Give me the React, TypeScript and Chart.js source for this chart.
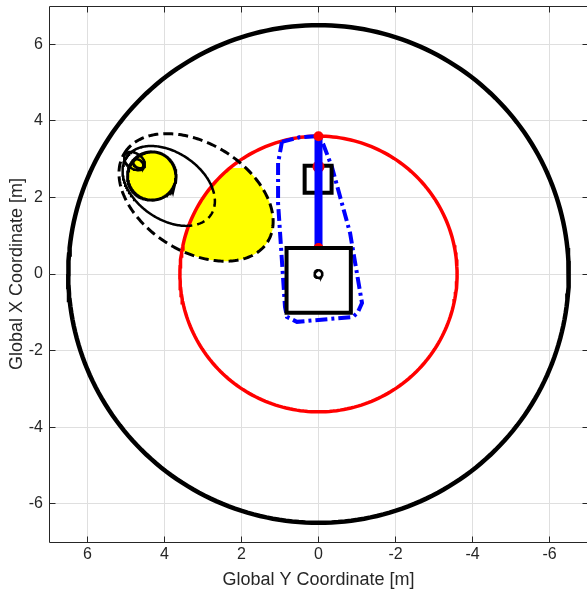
import React, { useEffect, useRef } from "react";
import { Chart, registerables } from "chart.js";

Chart.register(...registerables);

// Axis limits and tick marks (same on both axes)
const AXIS_MIN = -7;
const AXIS_MAX = 7;
const TICK_VALUES = [-6, -4, -2, 0, 2, 4, 6];

// Circles centred on the machine origin, radius in metres
const WORKSPACE_RADIUS = 6.5;
const BOOM_REACH_RADIUS = 3.6;
const ORIGIN_MARK_RADIUS = 0.1;

// Swing ellipses: [centre Y, centre X, semi-major, semi-minor, tilt deg]
const SWING_ENVELOPE = [3.18, 2.0, 2.19, 1.41, 32];
const SWING_PATH = [3.89, 2.3, 1.33, 0.87, 34.9];
const SWING_CURL_OUTER = [4.78, 2.95, 0.3, 0.2, 35];
const SWING_CURL_INNER = [4.68, 2.88, 0.15, 0.1, 35];

// Upper limit (Global X) of the shaded reachable part of the envelope
const SHADE_TOP_X = 2.77;

// Load footprint: [centre Y, centre X, radius]
const LOAD_DISC = [4.33, 2.56, 0.63];

// Boom from base joint to tip
const BOOM_Y = [0, 0];
const BOOM_X = [0.68, 3.6];
const BOOM_TIP_Y = [0];
const BOOM_TIP_X = [3.6];
const BOOM_BASE_Y = [0];
const BOOM_BASE_X = [0.68];
const HOIST_JOINT_Y = [0];
const HOIST_JOINT_X = [2.8];

// Cab and base outlines (closed)
const CAB_Y = [0.36, -0.34, -0.34, 0.36, 0.36];
const CAB_X = [2.83, 2.83, 2.12, 2.12, 2.83];
const BASE_Y = [0.83, -0.84, -0.84, 0.83, 0.83];
const BASE_X = [0.68, 0.68, -1.01, -1.01, 0.68];

// Swept hull of the machine
const HULL_Y = [0.95, 0.5, 0, -0.12, -0.35, -0.82, -1.13, -1.02, -0.9, 0.56, 0.82, 0.87, 1.05, 1.05, 0.95];
const HULL_X = [3.45, 3.57, 3.6, 3.4, 2.79, 1.07, -0.76, -1.0, -1.12, -1.25, -1.12, -0.86, 1.85, 2.9, 3.45];

const TEXT_COLOR = "#262626";
const GRID_COLOR = "#dfdfdf";
const FONT_FAMILY = "'Liberation Sans', Arial, Helvetica, sans-serif";

type P = { x: number; y: number };

// x holds the Global Y coordinate, y holds the Global X coordinate
const zip = (ys: number[], xs: number[]): P[] => ys.map((v, i) => ({ x: v, y: xs[i] }));

function ellipsePts([cy, cx, a, b, deg]: number[], n = 240): P[] {
  const t = (deg * Math.PI) / 180;
  const pts: P[] = [];
  for (let i = 0; i <= n; i++) {
    const p = (2 * Math.PI * i) / n;
    const u = a * Math.cos(p);
    const v = b * Math.sin(p);
    pts.push({ x: cy + u * Math.cos(t) - v * Math.sin(t), y: cx + u * Math.sin(t) + v * Math.cos(t) });
  }
  return pts;
}

const circlePts = (cy: number, cx: number, r: number, n = 240) => ellipsePts([cy, cx, r, r, 0], n);

const insideReach = (p: P) => Math.hypot(p.x, p.y) < BOOM_REACH_RADIUS;

// Part of the swing envelope that lies inside the boom reach
function envelopeWithinReach(): P[] {
  return ellipsePts(SWING_ENVELOPE).map((p) => {
    const d = Math.hypot(p.x, p.y);
    const q = d > BOOM_REACH_RADIUS ? { x: (p.x * BOOM_REACH_RADIUS) / d, y: (p.y * BOOM_REACH_RADIUS) / d } : p;
    return { x: q.x, y: Math.min(q.y, SHADE_TOP_X) };
  });
}

const GAP: P = { x: NaN, y: NaN };

function splitPath(): { outside: P[]; inside: P[] } {
  const pts = ellipsePts(SWING_PATH);
  const flags = pts.map(insideReach);
  const inside = pts.map((p, i) =>
    flags[i] || flags[Math.max(0, i - 1)] || flags[Math.min(pts.length - 1, i + 1)] ? p : GAP
  );
  const outside = pts.map((p, i) => (flags[i] ? GAP : p));
  return { outside, inside };
}

function stroke(data: P[], color: string, width: number, dash: number[] = [], fillColor?: string, cap = "butt") {
  return {
    data,
    showLine: true,
    borderColor: color,
    borderWidth: width,
    borderDash: dash,
    borderCapStyle: cap,
    borderJoinStyle: "miter",
    pointRadius: 0,
    pointHoverRadius: 0,
    spanGaps: false,
    tension: 0,
    fill: fillColor ? "shape" : false,
    backgroundColor: fillColor ?? "rgba(0,0,0,0)",
  };
}

function dots(data: P[], color: string, r: number) {
  return {
    data,
    showLine: false,
    pointRadius: r,
    pointHoverRadius: r,
    pointBackgroundColor: color,
    pointBorderColor: color,
    pointBorderWidth: 0,
    fill: false,
  };
}

const framePlugin = {
  id: "frame",
  afterDatasetsDraw(chart: any) {
    const { ctx, chartArea } = chart;
    const { left, right, top, bottom } = chartArea;
    const align = (v: number) => Math.round(v - 0.5) + 0.5;
    const L = align(left);
    const R = align(right);
    const T = align(top);
    const B = align(bottom);
    const len = 6;
    ctx.save();
    ctx.strokeStyle = TEXT_COLOR;
    ctx.lineWidth = 1;
    ctx.beginPath();
    ctx.rect(L, T, R - L, B - T);
    for (const v of TICK_VALUES) {
      const px = align(chart.scales.x.getPixelForValue(v));
      ctx.moveTo(px, B);
      ctx.lineTo(px, B - len);
      ctx.moveTo(px, T);
      ctx.lineTo(px, T + len);
      const py = align(chart.scales.y.getPixelForValue(v));
      ctx.moveTo(L, py);
      ctx.lineTo(L + len, py);
      ctx.moveTo(R, py);
      ctx.lineTo(R - len, py);
    }
    ctx.stroke();
    ctx.restore();
  },
};

export default function App() {
  const ref = useRef<HTMLCanvasElement>(null);

  useEffect(() => {
    const canvas = ref.current;
    if (!canvas) return;
    const path = splitPath();

    // Listed bottom layer first
    const layers: any[] = [
      stroke(circlePts(0, 0, WORKSPACE_RADIUS), "#000000", 4.5),
      stroke(envelopeWithinReach(), "rgba(0,0,0,0)", 1, [], "#ffff00"),
      stroke(circlePts(LOAD_DISC[0], LOAD_DISC[1], LOAD_DISC[2]), "#000000", 3, [], "#ffff00"),
      stroke(circlePts(0, 0, BOOM_REACH_RADIUS), "#ff0000", 3.5),
      stroke(ellipsePts(SWING_ENVELOPE), "#000000", 3, [10, 5]),
      stroke(path.outside, "#000000", 2.5),
      stroke(path.inside, "#000000", 2.5, [8, 5]),
      stroke(ellipsePts(SWING_CURL_OUTER, 80), "#000000", 2.5),
      stroke(ellipsePts(SWING_CURL_INNER, 60), "#000000", 2.5),
      stroke(zip(HULL_Y, HULL_X), "#0000ff", 4, [12, 4, 3, 4]),
      stroke(zip(CAB_Y, CAB_X), "#000000", 4, [], undefined, "square"),
      dots(zip(HOIST_JOINT_Y, HOIST_JOINT_X), "#ff0000", 6),
      stroke(zip(BOOM_Y, BOOM_X), "#0000ff", 8),
      dots(zip(BOOM_BASE_Y, BOOM_BASE_X), "#ff0000", 5),
      stroke(zip(BASE_Y, BASE_X), "#000000", 4, [], "#ffffff", "square"),
      stroke(circlePts(0, 0, ORIGIN_MARK_RADIUS, 60), "#000000", 2.5),
      dots(zip(BOOM_TIP_Y, BOOM_TIP_X), "#ff0000", 5),
    ];
    const datasets = layers.map((d, i) => ({ ...d, order: layers.length - i }));

    const tickFont = { family: FONT_FAMILY, size: 16 };
    const titleFont = { family: FONT_FAMILY, size: 18 };

    const chart = new Chart(canvas, {
      type: "line",
      data: { datasets },
      options: {
        responsive: false,
        maintainAspectRatio: false,
        animation: false,
        events: [],
        layout: { padding: { top: 6, right: 12, left: 0, bottom: 0 } },
        plugins: {
          legend: { display: false },
          tooltip: { enabled: false },
        },
        scales: {
          x: {
            type: "linear",
            reverse: true,
            min: AXIS_MIN,
            max: AXIS_MAX,
            afterBuildTicks: (s: any) => {
              s.ticks = TICK_VALUES.map((v) => ({ value: v }));
            },
            afterFit: (s: any) => {
              s.height = 52;
              s.paddingLeft = 0;
              s.paddingRight = 0;
            },
            grid: { color: GRID_COLOR, lineWidth: 1, drawTicks: false },
            border: { display: false },
            ticks: {
              color: TEXT_COLOR,
              font: tickFont,
              padding: 3,
              maxRotation: 0,
              autoSkip: false,
              callback: (v: any) => String(v),
            },
            title: {
              display: true,
              text: "Global Y Coordinate [m]",
              color: TEXT_COLOR,
              font: titleFont,
              padding: { top: 0, bottom: 3 },
            },
          },
          y: {
            type: "linear",
            min: AXIS_MIN,
            max: AXIS_MAX,
            afterBuildTicks: (s: any) => {
              s.ticks = TICK_VALUES.map((v) => ({ value: v }));
            },
            afterFit: (s: any) => {
              s.width = 49;
              s.paddingTop = 0;
              s.paddingBottom = 0;
            },
            grid: { color: GRID_COLOR, lineWidth: 1, drawTicks: false },
            border: { display: false },
            ticks: {
              color: TEXT_COLOR,
              font: tickFont,
              padding: 6,
              autoSkip: false,
              callback: (v: any) => String(v),
            },
            title: {
              display: true,
              text: "Global X Coordinate [m]",
              color: TEXT_COLOR,
              font: titleFont,
              padding: { top: 6, bottom: 0 },
            },
          },
        },
      },
      plugins: [framePlugin],
    } as any);

    return () => chart.destroy();
  }, []);

  return (
    <div
      style={{
        position: "absolute",
        left: 0,
        top: 0,
        width: 587,
        height: 594,
        overflow: "hidden",
        background: "#ffffff",
      }}
    >
      <canvas ref={ref} width={600} height={594} style={{ display: "block", width: 600, height: 594 }} />
    </div>
  );
}
